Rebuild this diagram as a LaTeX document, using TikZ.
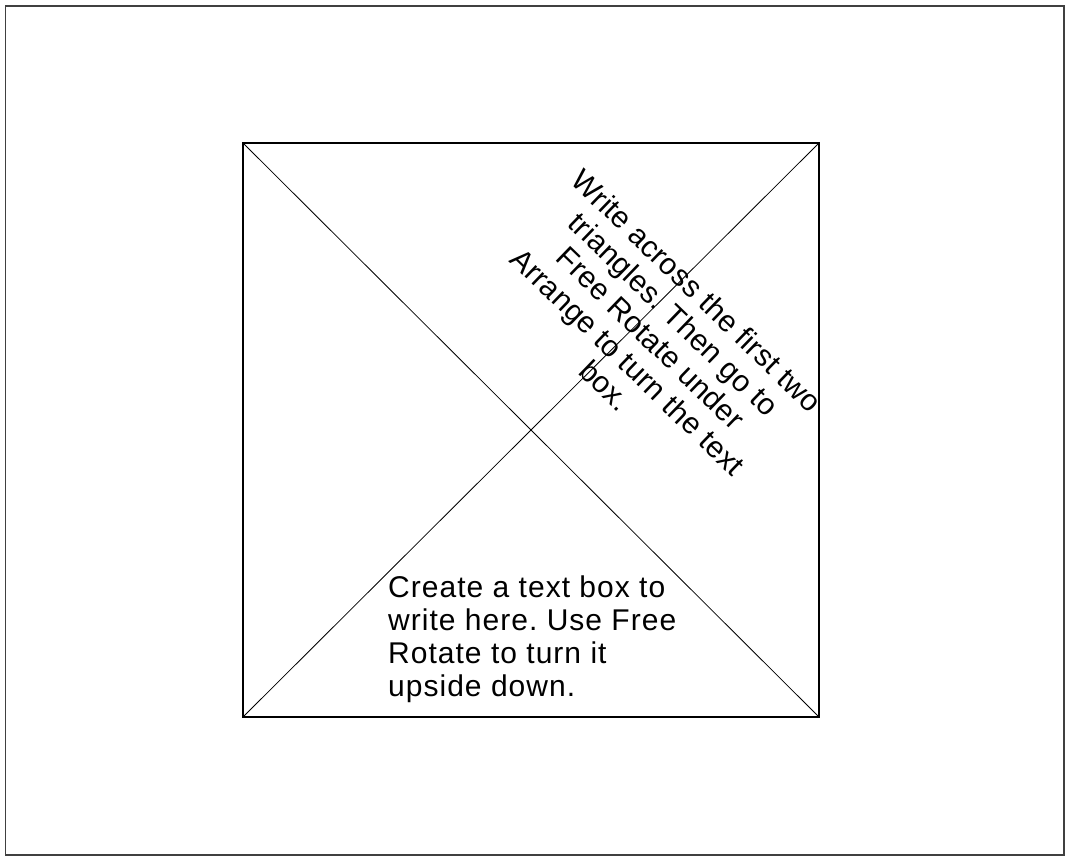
\documentclass[tikz,border=0pt]{standalone}
\usepackage{fontspec}
\setmainfont{Liberation Sans}
\newfontfamily\rotfont[LetterSpace=0.8]{Liberation Sans}
\newfontfamily\botfont[LetterSpace=3.4]{Liberation Sans}
\frenchspacing
\begin{document}
\begin{tikzpicture}[x=1pt,y=1pt,
  frame/.style={draw=black!75,line width=1.2pt},
  sq/.style={draw=black,line width=1.6pt},
  diag/.style={draw=black,line width=0.8pt},
  rottxt/.style={inner sep=0pt,font=\rotfont\fontsize{30}{33}\selectfont},
  bottxt/.style={inner sep=0pt,font=\botfont\fontsize{30}{33}\selectfont}]
\useasboundingbox (0,0) rectangle (1066,857);
\coordinate (o1) at (5.5,851);
\coordinate (o2) at (1064,2);
\draw[frame] (o1) rectangle (o2);
\coordinate (tl) at (243,714);
\coordinate (tr) at (819,714);
\coordinate (br) at (819,140);
\coordinate (bl) at (243,140);
\draw[diag] (tl) -- (br);
\draw[diag] (bl) -- (tr);
\draw[sq] (tl) rectangle (br);
\node[rottxt,align=center,rotate=-44] (rot) at (651,519)
  {Write across the first two\\triangles. Then go to\\Free Rotate under\\Arrange to turn the text\\box.};
\node[bottxt,align=left,anchor=north west] (bot) at (388,281)
  {Create a text box to\\write here. Use Free\\Rotate to turn it\\upside down.};
\end{tikzpicture}
\end{document}
